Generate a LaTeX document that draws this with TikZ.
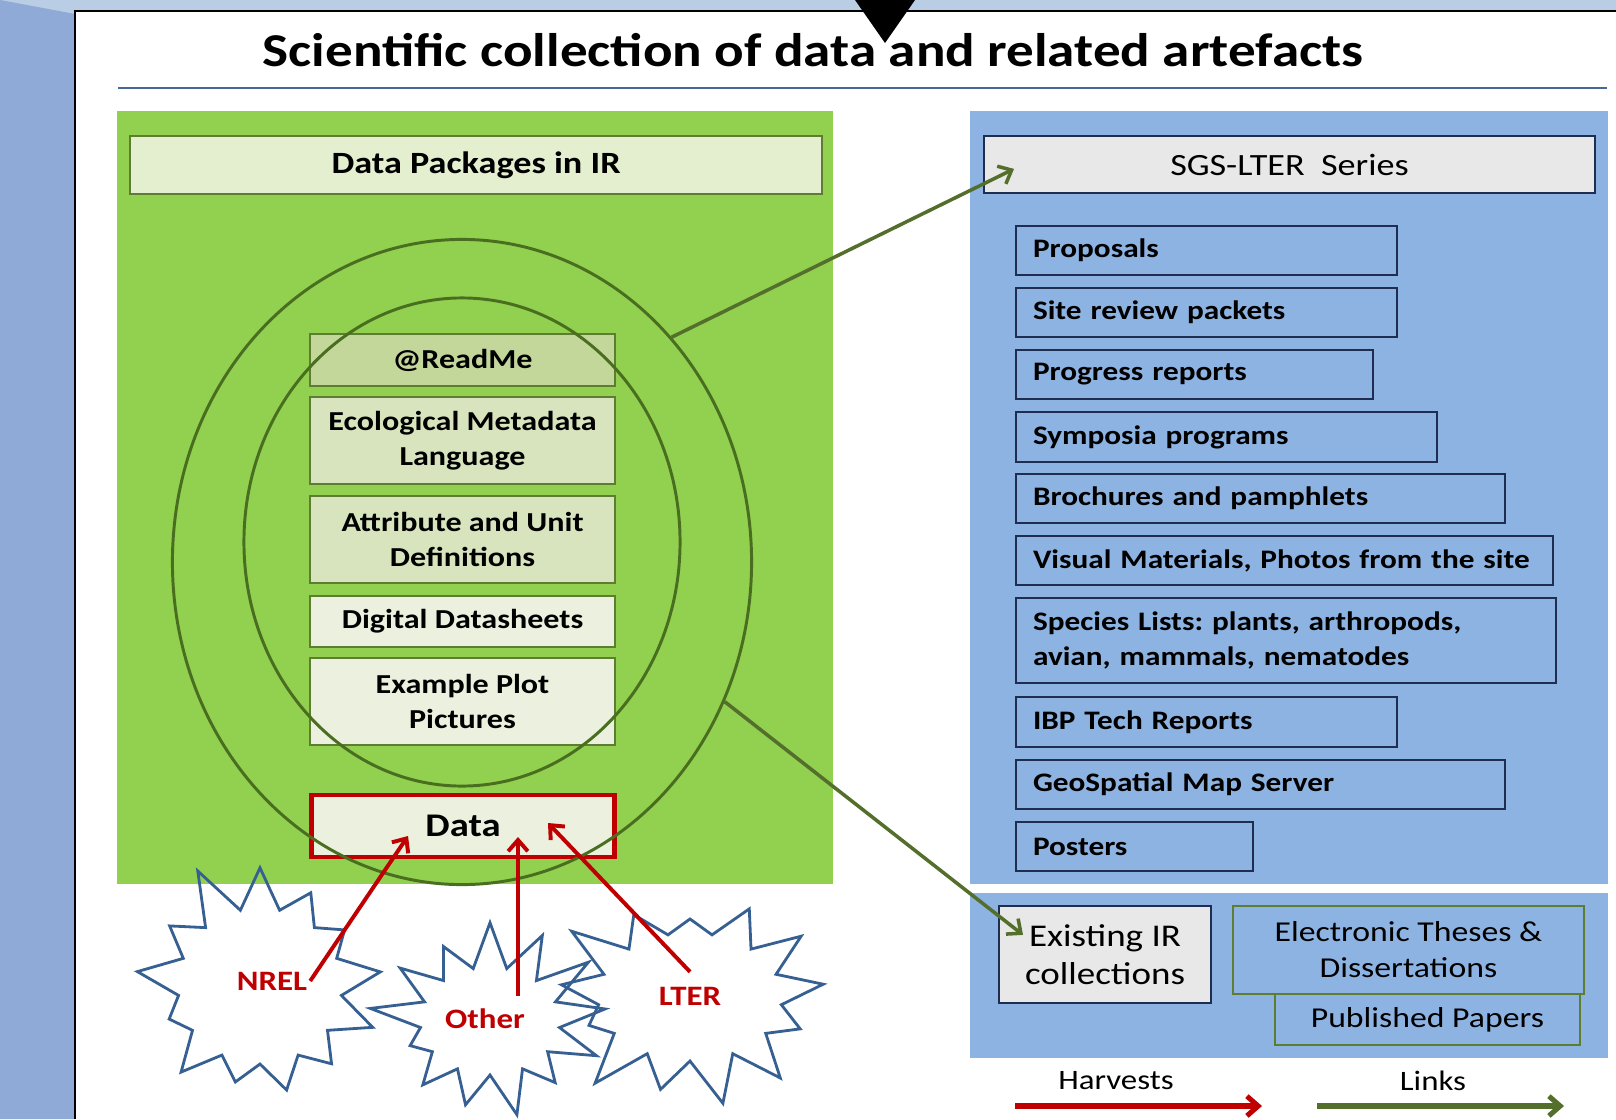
\documentclass[tikz,border=0pt]{standalone}
\usepackage{fontspec}
\setmainfont{Carlito}[FakeStretch=1.17]
\usetikzlibrary{positioning,shapes.geometric,shapes.symbols,arrows.meta}
\definecolor{slidebg}{RGB}{185,205,229}
\definecolor{sidebar}{RGB}{143,170,214}
\definecolor{panelgreen}{RGB}{146,208,80}
\definecolor{panelblue}{RGB}{141,179,226}
\definecolor{palegreen}{RGB}{235,241,222}
\definecolor{midgreen}{RGB}{215,228,189}
\definecolor{deepgreen}{RGB}{196,215,155}
\definecolor{headgreen}{RGB}{228,239,208}
\definecolor{boxedge}{RGB}{95,125,50}
\definecolor{ringgreen}{RGB}{74,110,32}
\definecolor{linkgreen}{RGB}{84,110,44}
\definecolor{harvestred}{RGB}{192,0,0}
\definecolor{navyedge}{RGB}{30,45,80}
\definecolor{burstblue}{RGB}{55,96,146}
\definecolor{rulegray}{RGB}{70,105,150}
\definecolor{seriesgray}{RGB}{232,232,232}
\frenchspacing
\begin{document}
\begin{tikzpicture}[x=0.025cm,y=-0.025cm,
  pkgbox/.style={draw=boxedge,line width=1.4pt,minimum width=7.625cm,inner sep=0pt,align=center,font=\bfseries\fontsize{19.5}{24.5}\selectfont},
  listbox/.style={draw=navyedge,line width=1.4pt,fill=panelblue,anchor=north west,inner xsep=0.425cm,inner ysep=0pt,align=left,font=\bfseries\fontsize{19}{24.5}\selectfont},
  burst/.style={starburst,draw=burstblue,line width=2pt,starburst points=13,starburst point height=1.35cm},
  srclabel/.style={text=harvestred,font=\bfseries\fontsize{20}{24}\selectfont,inner sep=2pt},
  harvest/.style={-{Straight Barb[length=8pt,width=14pt]},harvestred,line width=2.8pt},
  link/.style={-{Straight Barb[length=8pt,width=14pt]},linkgreen,line width=2.5pt}]
\useasboundingbox (0,0) rectangle (1616,1119);
% slide background
\fill[slidebg] (0,0) rectangle (1616,1119);
\fill[sidebar] (0,0) -- (75,14) -- (75,1119) -- (0,1119) -- cycle;
\fill[white] (75,11) rectangle (1616,1119);
\draw[black,line width=1.4pt] (1616,11) -- (75,11) -- (75,1119);
% title
\node[font=\bfseries\fontsize{33.5}{40}\selectfont] (title) at (813,50) {Scientific collection of data and related artefacts};
\draw[rulegray,line width=2pt] (118,88) -- (1607,88);
\fill[black] (855,0) -- (915,0) -- (885,43) -- cycle;
% panels
\fill[panelgreen] (117,111) rectangle (833,884);
\fill[panelblue] (970,111) rectangle (1608,884);
\fill[panelblue] (970,893) rectangle (1608,1058);
% left side: data packages
\node[draw=boxedge,line width=1.4pt,fill=headgreen,anchor=north west,minimum width=17.3cm,minimum height=1.45cm,
  font=\bfseries\fontsize{22}{26}\selectfont] (pkghead) at (129,135) {Data Packages in IR};
\foreach \ytop/\hgt/\shade/\txt [count=\i] in {333/52/deepgreen/@ReadMe,
    396/87/midgreen/{Ecological Metadata\\Language},
    495/87/midgreen/{Attribute and Unit\\Definitions},
    595/51/palegreen/Digital Datasheets,
    657/87/palegreen/{Example Plot\\Pictures}} % edit here for the package boxes
  \node[pkgbox,fill=\shade,anchor=north west,minimum height=\hgt*0.025cm] (pkg\i) at (309,\ytop) {\txt};
\node[draw=harvestred,line width=3.5pt,fill=palegreen,minimum width=7.575cm,minimum height=1.55cm,
  font=\bfseries\fontsize{23.5}{28}\selectfont] (data) at (463,826) {Data};
\node[ellipse,draw=ringgreen,line width=2.1pt,minimum width=14.475cm,minimum height=16.125cm] (outerring) at (462,562) {};
\node[ellipse,draw=ringgreen,line width=2.1pt,minimum width=10.9cm,minimum height=12.2cm] (innerring) at (462,542) {};
% sources
\node[burst,minimum width=6.8cm,minimum height=6.6cm,random starburst=11] (nrelburst) at (260,986) {};
\node[burst,minimum width=7.3cm,minimum height=5.9cm,random starburst=23] (lterburst) at (690,997) {};
\node[burst,minimum width=6.2cm,minimum height=5.4cm,random starburst=37] (otherburst) at (490,1021) {};
\node[srclabel] (nrel) at (272,981) {NREL};
\node[srclabel] (other) at (485,1019) {Other};
\node[srclabel] (lter) at (690,996) {LTER};
\coordinate (nrelin) at (408,836);
\coordinate (otherin) at (518,837);
\coordinate (lterin) at (548,823);
\draw[harvest] (nrel.east) -- (nrelin);
\draw[harvest] ([yshift=0.25cm]other.north -| otherin) -- (otherin);
\draw[harvest] ([yshift=0.3cm]lter.north) -- (lterin);
% right side: series
\node[draw=navyedge,line width=1.4pt,fill=seriesgray,anchor=north west,minimum width=15.275cm,minimum height=1.425cm,
  font=\fontsize{22}{26}\selectfont] (sgs) at (983,135) {SGS-LTER\ \ Series};
\foreach \ytop/\boxw/\hgt/\txt [count=\i, evaluate=\boxw as \tw using \boxw*0.025-0.85] in {225/381/49/Proposals,
    287/381/49/Site review packets,
    349/357/49/Progress reports,
    411/421/50/Symposia programs,
    473/489/49/Brochures and pamphlets,
    535/537/49/{Visual Materials, Photos from the site},
    597/540/85/{Species Lists: plants, arthropods,\\avian, mammals, nematodes},
    696/381/50/IBP Tech Reports,
    759/489/49/GeoSpatial Map Server,
    821/237/49/Posters} % edit here for the series items
  \node[listbox,text width=\tw cm,minimum height=\hgt*0.025cm] (item\i) at (1015,\ytop) {\txt};
% existing collections
\node[draw=navyedge,line width=1.4pt,fill=seriesgray,anchor=north west,minimum width=5.3cm,minimum height=2.425cm,
  align=center,font=\fontsize{22.5}{27}\selectfont] (existing) at (998,905) {Existing IR\\collections};
\node[draw=boxedge,line width=1.2pt,fill=panelblue,anchor=north west,minimum width=8.775cm,minimum height=2.2cm,
  align=center,font=\fontsize{20.5}{25.6}\selectfont] (etd) at (1232,905) {Electronic Theses \&\\Dissertations};
\node[draw=boxedge,line width=1.2pt,fill=panelblue,anchor=north west,minimum width=7.625cm,minimum height=1.275cm,
  font=\fontsize{20.5}{24}\selectfont] (papers) at (1274,993) {Published Papers};
% links
\draw[link] (outerring.47) -- ([xshift=0.775cm,yshift=-0.11cm]sgs.west);
\draw[link] (outerring.-28) -- ([xshift=0.625cm,yshift=0.49cm]existing.west);
% legend
\node[font=\fontsize{20}{24}\selectfont] (harvestkey) at (1116,1081) {Harvests};
\node[font=\fontsize{20}{24}\selectfont] (linkkey) at (1433,1081) {Links};
\coordinate (harvfrom) at (1015,1106);
\coordinate (harvto) at (1262,1106);
\coordinate (linkfrom) at (1317,1106);
\coordinate (linkto) at (1564,1106);
\draw[harvest,line width=3.6pt] (harvfrom) -- (harvto);
\draw[link,line width=3.6pt] (linkfrom) -- (linkto);
\end{tikzpicture}
\end{document}
